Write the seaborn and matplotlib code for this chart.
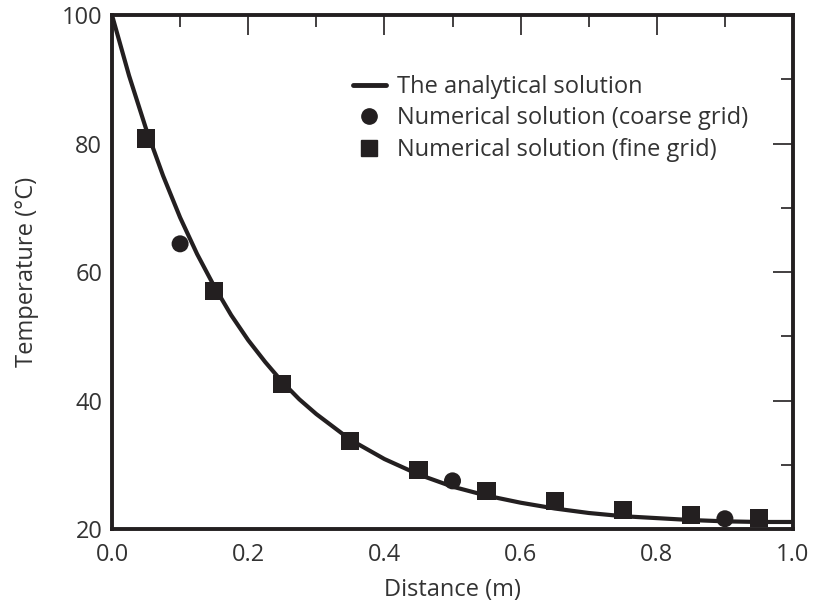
import numpy as np
import pandas as pd
import matplotlib
matplotlib.use("Agg")
import matplotlib.pyplot as plt
import seaborn as sns
from matplotlib.lines import Line2D
from matplotlib.ticker import MultipleLocator

# analytical curve, values
curve_x = [0.0, 0.025, 0.05, 0.075, 0.1, 0.125, 0.15, 0.175, 0.2, 0.225, 0.25, 0.275, 0.3,
           0.35, 0.4, 0.45, 0.5, 0.55, 0.6, 0.65, 0.7, 0.75, 0.8, 0.85, 0.9, 0.95, 1.0]
curve_t = [100.0, 90.6, 82.3, 75.0, 68.5, 62.8, 57.8, 53.3, 49.4, 46.0, 42.9, 40.2, 37.9,
           33.9, 30.9, 28.5, 26.6, 25.2, 24.1, 23.2, 22.5, 22.0, 21.7, 21.4, 21.2, 21.1, 21.1]

# coarse grid
coarse_x = [0.1, 0.5, 0.9]
coarse_t = [64.4, 27.5, 21.6]

# fine grid
fine_x = [0.05, 0.15, 0.25, 0.35, 0.45, 0.55, 0.65, 0.75, 0.85, 0.95]
fine_t = [80.8, 57.0, 42.6, 33.7, 29.2, 25.9, 24.4, 23.0, 22.2, 21.7]

sns.set_style("white")
plt.rcParams['font.family'] = ['Open Sans', 'DejaVu Sans']
ink = '#231f20'
txt = '#333333'

fig = plt.figure(figsize=(8.14, 6.06), dpi=100)
ax = fig.add_axes([0.1376, 0.127, 0.8366, 0.848])

df_curve = pd.DataFrame({'x': curve_x, 't': curve_t})
sns.lineplot(data=df_curve, x='x', y='t', ax=ax, color=ink, linewidth=3.0, sort=False)
sns.scatterplot(x=coarse_x, y=coarse_t, ax=ax, marker='o', s=150, color=ink,
                edgecolor='none', zorder=3)
sns.scatterplot(x=fine_x, y=fine_t, ax=ax, marker='s', s=170, color=ink,
                edgecolor='none', zorder=3)

ax.set_xlim(0, 1.0)
ax.set_ylim(20, 100)
ax.xaxis.set_major_locator(MultipleLocator(0.2))
ax.xaxis.set_minor_locator(MultipleLocator(0.1))
ax.yaxis.set_major_locator(MultipleLocator(20))
ax.yaxis.set_minor_locator(MultipleLocator(10))
ax.xaxis.set_major_formatter(matplotlib.ticker.FormatStrFormatter('%.1f'))

ax.tick_params(which='both', direction='in', top=True, right=True, color=ink,
               width=1.2, labelsize=17, labelcolor=txt)
ax.tick_params(which='major', length=14.5, pad=10)
ax.tick_params(axis='y', which='major', pad=7)
ax.tick_params(which='minor', length=8.5)
for sp in ax.spines.values():
    sp.set_linewidth(2.8)
    sp.set_color(ink)

ax.set_xlabel('Distance (m)', fontsize=17, color=txt, labelpad=8)
ax.set_ylabel('Temperature (°C)', fontsize=17, color=txt, labelpad=16)

handles = [
    Line2D([], [], color=ink, linewidth=3.5),
    Line2D([], [], color=ink, marker='o', linestyle='none', markersize=11),
    Line2D([], [], color=ink, marker='s', linestyle='none', markersize=11),
]
labels = ['The analytical solution', 'Numerical solution (coarse grid)',
          'Numerical solution (fine grid)']
leg = ax.legend(handles, labels, loc='upper left', bbox_to_anchor=(0.322, 0.925),
                frameon=False, fontsize=17, handlelength=1.4, handletextpad=0.5,
                labelspacing=0.32, labelcolor=txt)

fig.savefig('out.png', dpi=100)
